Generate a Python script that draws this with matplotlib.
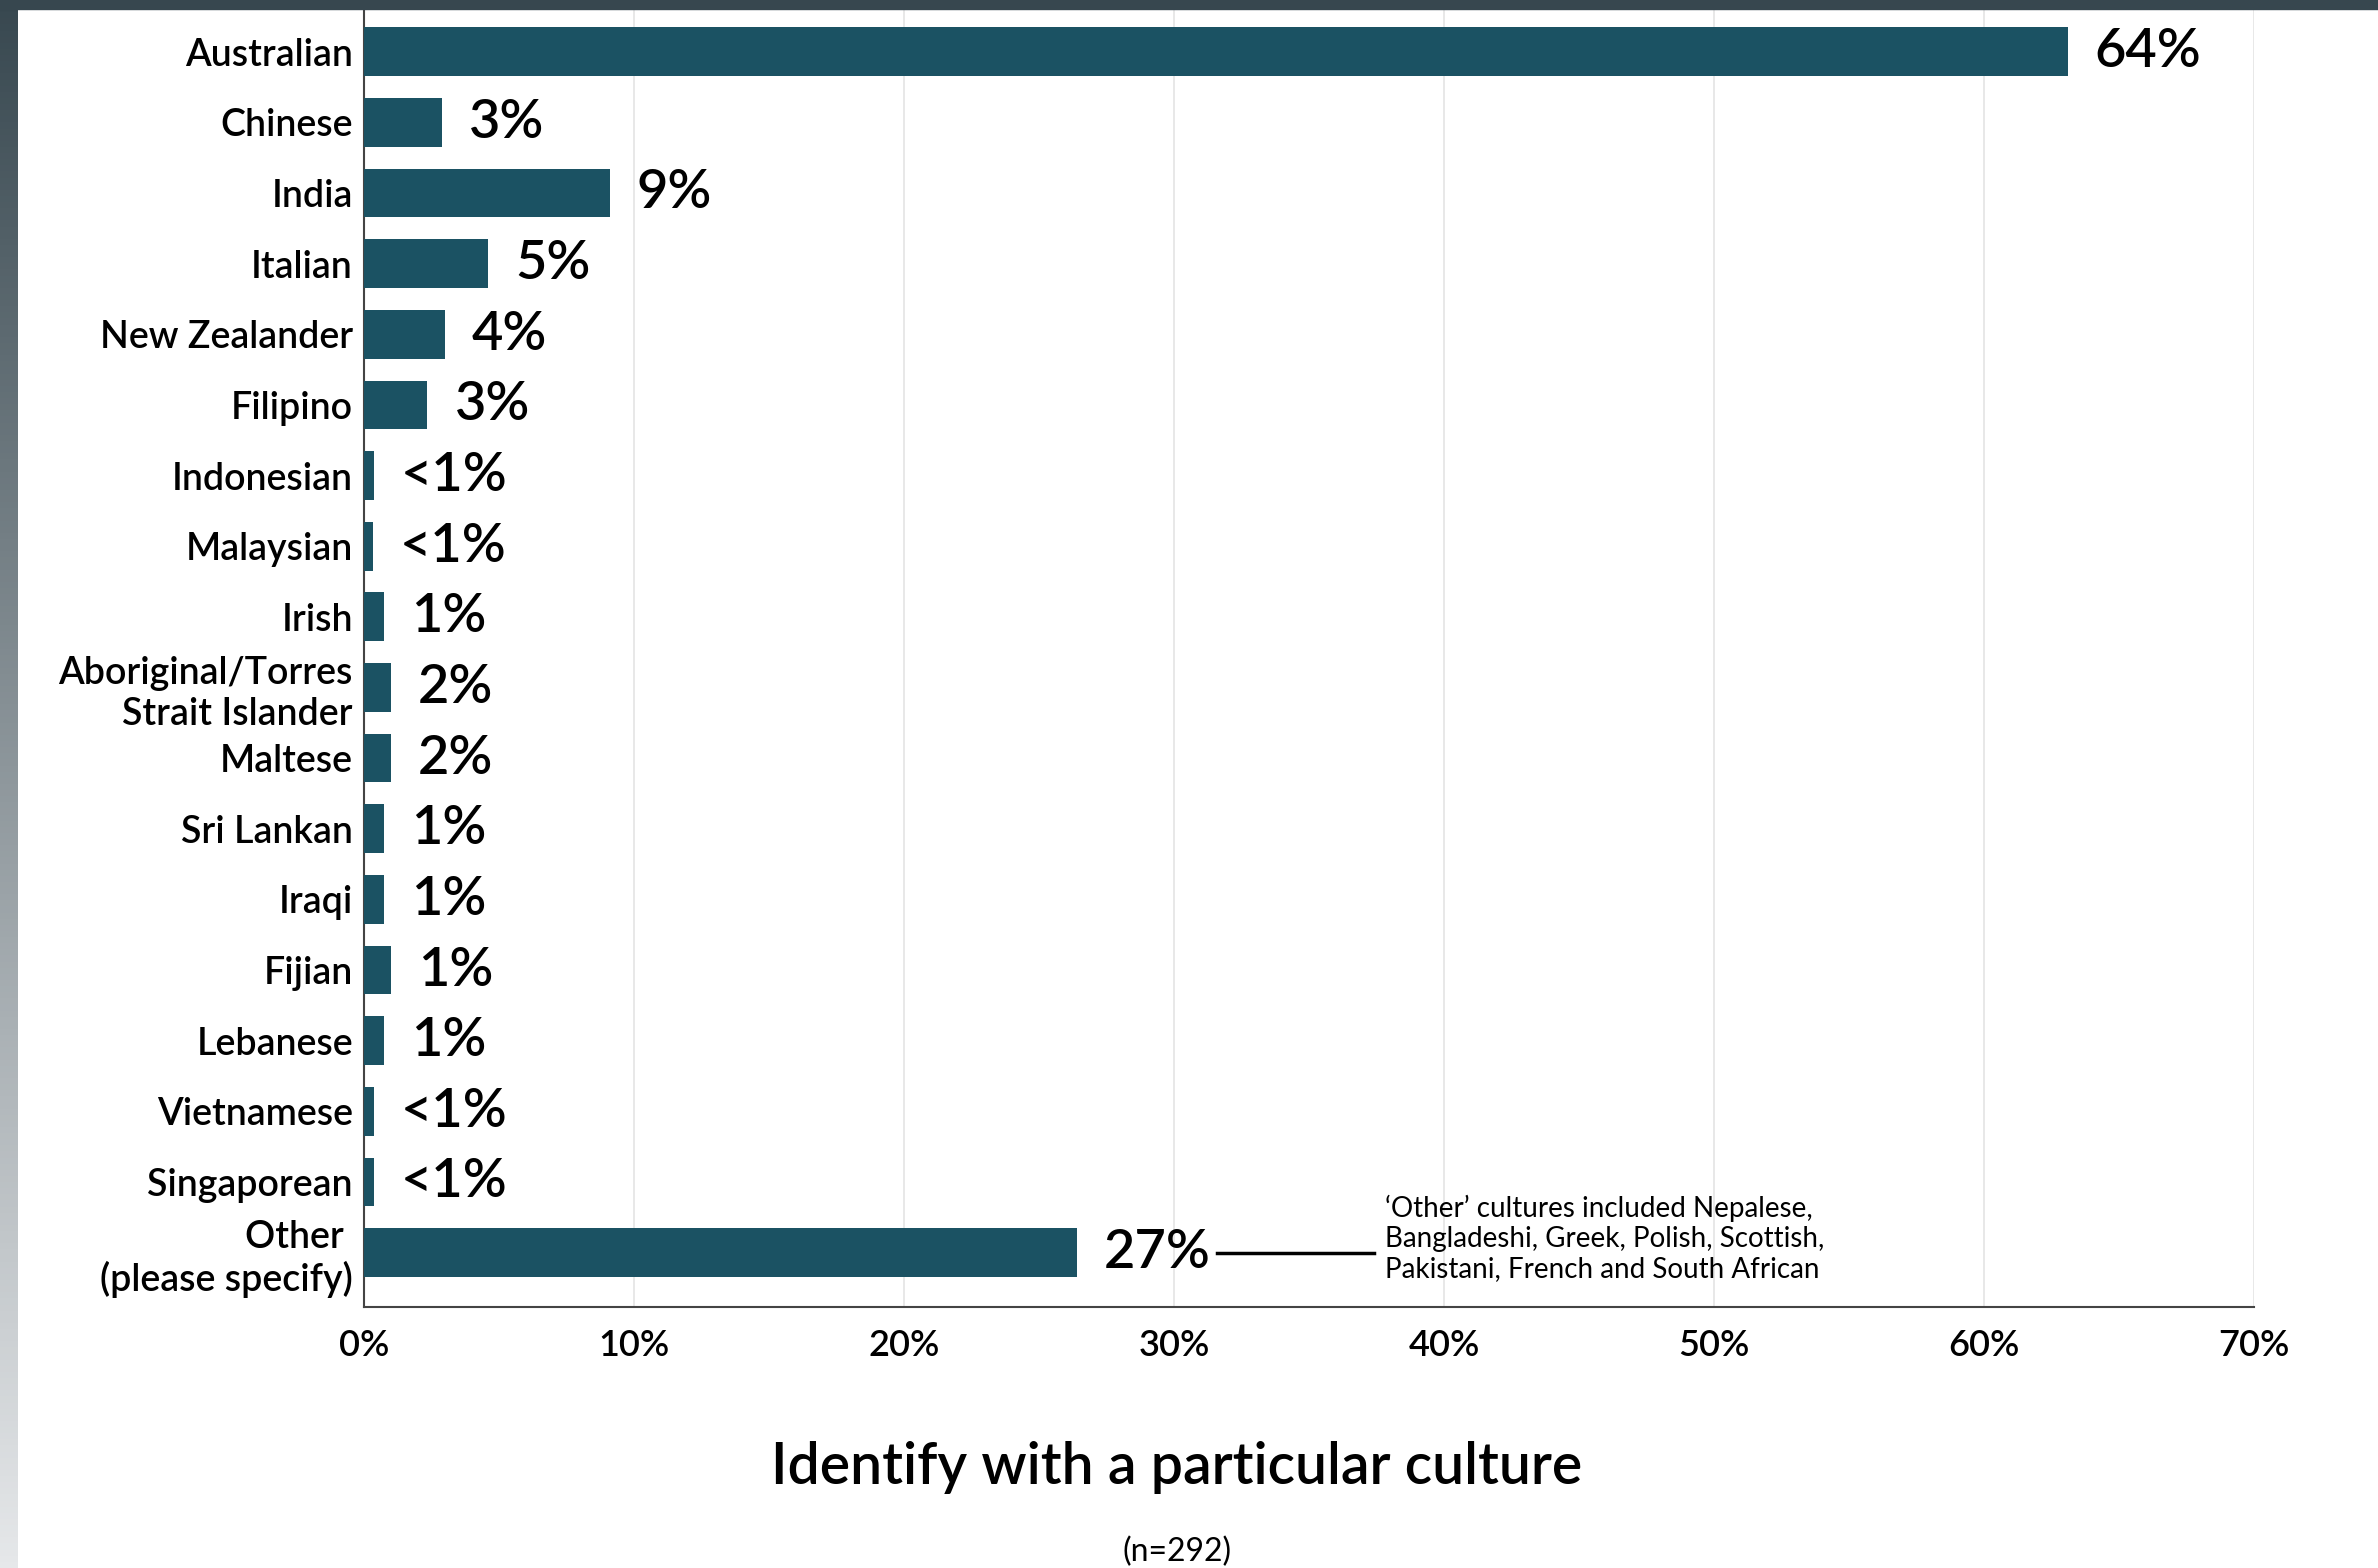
import numpy as np
import matplotlib
matplotlib.use("Agg")
import matplotlib.pyplot as plt
from matplotlib.patches import Rectangle

plt.rcParams['font.family'] = ['Lato', 'DejaVu Sans']

categories = ["Australian", "Chinese", "India", "Italian", "New Zealander", "Filipino",
              "Indonesian", "Malaysian", "Irish", "Aboriginal/Torres\nStrait Islander",
              "Maltese", "Sri Lankan", "Iraqi", "Fijian", "Lebanese", "Vietnamese",
              "Singaporean", "Other \n(please specify)"]
values = [63.1, 2.9, 9.1, 4.6, 3.0, 2.35, 0.37, 0.33, 0.74, 1.0, 1.0, 0.74, 0.74, 1.0,
          0.74, 0.37, 0.37, 26.4]
value_labels = ["64%", "3%", "9%", "5%", "4%", "3%", "<1%", "<1%", "1%", "2%", "2%",
                "1%", "1%", "1%", "1%", "<1%", "<1%", "27%"]
xticks = [0, 10, 20, 30, 40, 50, 60, 70]
note = ("\u2018Other\u2019 cultures included Nepalese,\n"
        "Bangladeshi, Greek, Polish, Scottish,\n"
        "Pakistani, French and South African")

W, H = 2378, 1568
fig = plt.figure(figsize=(W / 100, H / 100), dpi=100)
fig.patch.set_facecolor("white")

# left gradient strip and top dark strip
strip = fig.add_axes([0, 0, 18 / W, 1])
grad = np.linspace(0, 1, 256).reshape(-1, 1)
top_c = np.array([0x38, 0x48, 0x50]) / 255
bot_c = np.array([0xe6, 0xe8, 0xea]) / 255
img = top_c + (bot_c - top_c) * grad[:, :, None]
strip.imshow(img, aspect="auto", extent=[0, 1, 0, 1])
strip.axis("off")
fig.patches.append(Rectangle((0, 1 - 9 / H), 1, 9 / H, transform=fig.transFigure,
                             color="#37474f", zorder=5))

ax = fig.add_axes([364 / W, 1 - 1307 / H, (2254 - 364) / W, (1307 - 10) / H])
y = np.arange(len(categories))
ax.barh(y, values, height=0.69, color="#1b5263", zorder=3)
ax.set_ylim(17.77, -0.59)
ax.set_xlim(0, 70)
ax.set_yticks(y)
ax.set_yticklabels(categories, fontsize=27, fontweight="semibold", linespacing=1.2)
ax.set_xticks(xticks)
ax.set_xticklabels([f"{t}%" for t in xticks], fontsize=26, fontweight="semibold")
ax.tick_params(axis="both", length=0)
ax.tick_params(axis="y", pad=8)
ax.tick_params(axis="x", pad=16)
ax.grid(axis="x", color="#e4e4e4", linewidth=1.2, zorder=0)
for s in ["top", "right"]:
    ax.spines[s].set_visible(False)
for s in ["left", "bottom"]:
    ax.spines[s].set_color("#444444")
    ax.spines[s].set_linewidth(1.5)

for yi, v, lab in zip(y, values, value_labels):
    ax.text(v + 1.0, yi, lab, va="center", ha="left", fontsize=39, fontweight="semibold",
            color="black", zorder=4)

# annotation for Other
ax.plot([31.6, 37.4], [17, 17], color="black", linewidth=2.5, clip_on=False)
ax.text(37.8, 16.8, note, va="center", ha="left", fontsize=20, fontweight="normal",
        linespacing=1.2)

fig.text(1177 / W, 1 - 1468 / H, "Identify with a particular culture", ha="center",
         va="center", fontsize=41, fontweight="semibold")
fig.text(1177 / W, 1 - 1552 / H, "(n=292)", ha="center", va="center", fontsize=23,
         fontweight="normal")

fig.savefig("out.png", dpi=100)
